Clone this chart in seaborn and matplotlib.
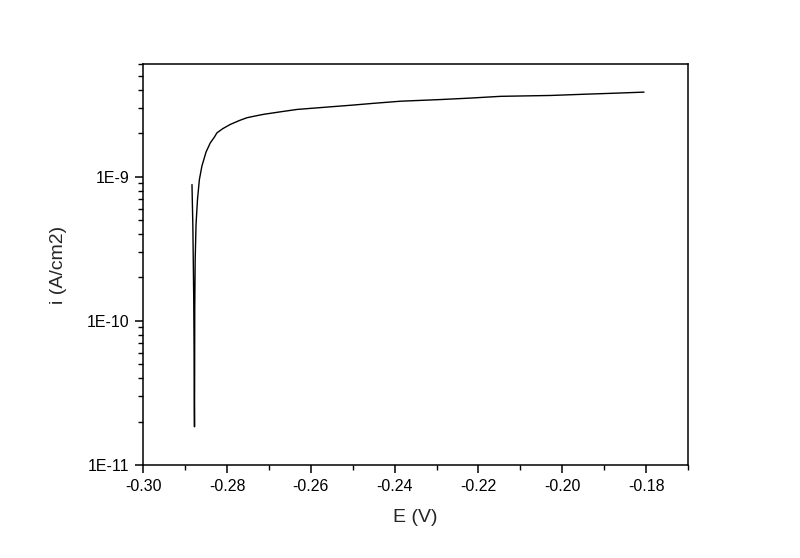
import numpy as np
import pandas as pd

import matplotlib
matplotlib.use('Agg')
import matplotlib.pyplot as plt
import matplotlib.ticker as mticker
import seaborn as sns

# potential (V) and current density (A/cm2)
E = [-0.28836, -0.28815, -0.28795, -0.28785, -0.28780, -0.28776, -0.28773, -0.28770,
     -0.28760, -0.28740, -0.28705, -0.28660, -0.28600, -0.28500, -0.28400, -0.28300,
     -0.28240, -0.28100, -0.27920, -0.27700, -0.27520, -0.27300, -0.27130, -0.26730,
     -0.26330, -0.25500, -0.25000, -0.24500, -0.23860, -0.22900, -0.22200, -0.21470,
     -0.20280, -0.19500, -0.18800, -0.18050]
i = [8.8e-10, 4.5e-10, 1.5e-10, 6.0e-11, 2.6e-11, 1.84e-11, 4.0e-11, 1.2e-10,
     2.6e-10, 4.6e-10, 6.9e-10, 9.5e-10, 1.18e-9, 1.48e-9, 1.71e-9, 1.88e-9,
     2.01e-9, 2.15e-9, 2.30e-9, 2.45e-9, 2.56e-9, 2.64e-9, 2.70e-9, 2.81e-9,
     2.92e-9, 3.05e-9, 3.13e-9, 3.22e-9, 3.33e-9, 3.42e-9, 3.50e-9, 3.60e-9,
     3.65e-9, 3.72e-9, 3.78e-9, 3.85e-9]

xticks = [-0.30, -0.28, -0.26, -0.24, -0.22, -0.20, -0.18]
xminor = [-0.29, -0.27, -0.25, -0.23, -0.21, -0.19, -0.17]
yticks = [1e-11, 1e-10, 1e-9]
ylabels = ['1E-11', '1E-10', '1E-9']

df = pd.DataFrame({'E': E, 'i': i})

sns.set_style("ticks")
plt.rcParams['font.family'] = ['Liberation Sans', 'DejaVu Sans']

fig = plt.figure(figsize=(8, 5.58), dpi=100)
ax = fig.add_axes([0.179, 0.1667, 0.681, 0.718])

sns.lineplot(data=df, x='E', y='i', sort=False, estimator=None,
             color='black', linewidth=1.0, ax=ax)

ax.set_yscale('log')
ax.set_xlim(-0.30, -0.17)
ax.set_ylim(1e-11, 6e-9)

ax.xaxis.set_major_locator(mticker.FixedLocator(xticks))
ax.xaxis.set_minor_locator(mticker.FixedLocator(xminor))
ax.set_xticklabels(['%.2f' % v for v in xticks])
ax.yaxis.set_major_locator(mticker.FixedLocator(yticks))
ax.yaxis.set_minor_locator(mticker.LogLocator(base=10, subs=np.arange(2, 10), numticks=20))
ax.set_yticklabels(ylabels)
ax.yaxis.set_minor_formatter(mticker.NullFormatter())

for s in ax.spines.values():
    s.set_visible(True)
    s.set_linewidth(1.1)
    s.set_color('black')

ax.tick_params(which='major', direction='out', length=6, width=1.1, labelsize=11.5, pad=4, colors='black')
ax.tick_params(which='minor', direction='out', length=3.5, width=1.0, colors='black')
ax.tick_params(top=False, right=False, which='both')

ax.set_xlabel('E (V)', fontsize=14, labelpad=11)
ax.set_ylabel('i (A/cm2)', fontsize=14, labelpad=14)

plt.savefig('out.png', dpi=100)
plt.close()
